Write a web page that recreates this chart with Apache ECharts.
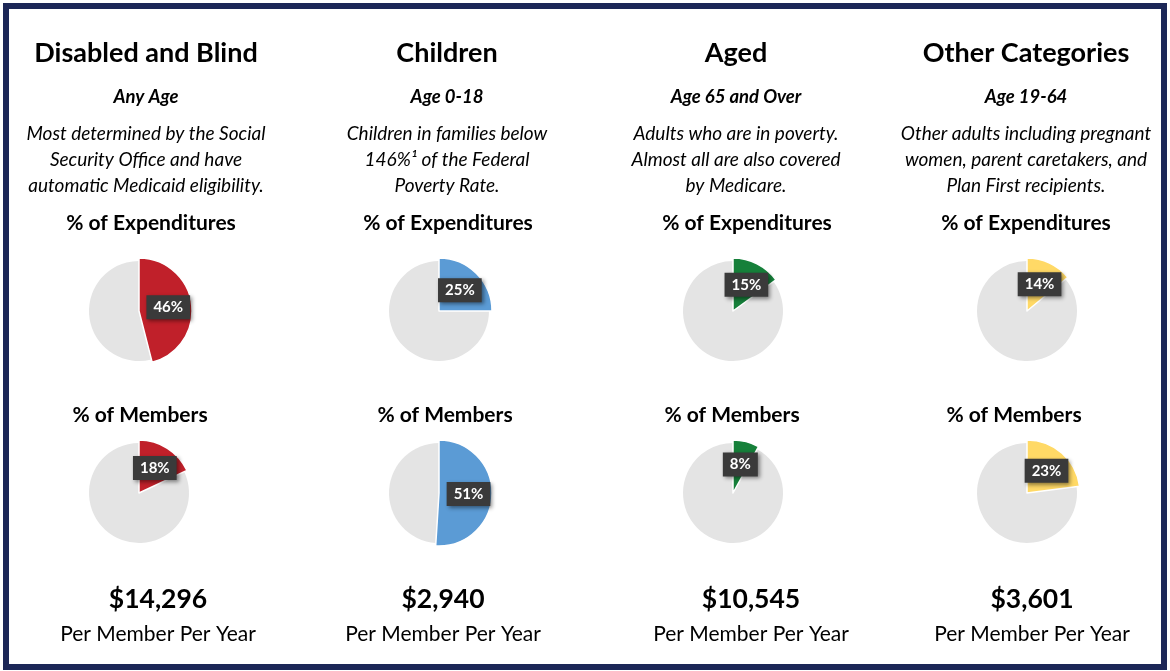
<!DOCTYPE html>
<html>
<head>
<meta charset="utf-8">
<script src="https://cdn.jsdelivr.net/npm/echarts@6/dist/echarts.min.js"></script>
<style>
  html, body { margin: 0; padding: 0; background: #fff; }
  #chart { width: 1170px; height: 671px; }
</style>
</head>
<body>
<div id="chart"></div>
<script>
// groups
const titles = ['Disabled and Blind', 'Children', 'Aged', 'Other Categories'];
const ages = ['Any Age', 'Age 0-18', 'Age 65 and Over', 'Age 19-64'];
const descriptions = [
  ['Most determined by the Social', 'Security Office and have', 'automatic Medicaid eligibility.'],
  ['Children in families below', '146%\u00b9 of the Federal', 'Poverty Rate.'],
  ['Adults who are in poverty.', 'Almost all are also covered', 'by Medicare.'],
  ['Other adults including pregnant', 'women, parent caretakers, and', 'Plan First recipients.'],
];
const expenditurePct = [46, 25, 15, 14];
const memberPct = [18, 51, 8, 23];
const costPerMember = ['$14,296', '$2,940', '$10,545', '$3,601'];
const colors = ['#c0202a', '#5b9bd5', '#16803a', '#ffd966'];

// layout
const colX = [146, 447, 736, 1026];
const expHeadX = [151, 448, 747, 1026];
const memHeadX = [140, 445, 732, 1014];
const bottomX = [158, 443, 751, 1032];
const pieX = [139, 439, 733, 1027];
const pieTopY = 311;
const pieBottomY = 493;
const FONT = 'Lato, "Open Sans", sans-serif';

const chart = echarts.init(document.getElementById('chart'));

const graphic = [
  {
    type: 'rect',
    shape: { x: 6, y: 6, width: 1158, height: 661 },
    style: { fill: 'none', stroke: '#1c2757', lineWidth: 6 },
    silent: true,
  },
];

function addText(x, y, text, font) {
  graphic.push({
    type: 'text',
    x,
    y,
    style: {
      text,
      font,
      fill: '#000',
      textAlign: 'center',
      textVerticalAlign: 'middle',
    },
  });
}

titles.forEach((t, i) => {
  addText(colX[i], 53, t, 'bold 27px ' + FONT);
  addText(colX[i], 97, ages[i], 'italic bold 18.5px ' + FONT);
  descriptions[i].forEach((line, j) => {
    addText(colX[i], 134 + j * 26, line, 'italic 19px ' + FONT);
  });
  addText(expHeadX[i], 223, '% of Expenditures', 'bold 21px ' + FONT);
  addText(memHeadX[i], 415, '% of Members', 'bold 21px ' + FONT);
  addText(bottomX[i], 599, costPerMember[i], 'bold 26.5px ' + FONT);
  addText(bottomX[i], 634, 'Per Member Per Year', '21px ' + FONT);
});

const labelStyle = {
  show: true,
  position: 'inside',
  formatter: '{c}%',
  color: '#fff',
  fontFamily: FONT,
  fontWeight: 'bold',
  fontSize: 15,
  backgroundColor: '#3a3a3a',
  padding: [5, 7, 4, 7],
  shadowColor: 'rgba(0,0,0,0.45)',
  shadowBlur: 4,
  shadowOffsetX: 2,
  shadowOffsetY: 2,
};

const series = [];
function addPie(cx, cy, pct, color) {
  // grey base
  series.push({
    type: 'pie',
    center: [cx, cy],
    radius: 50,
    startAngle: 90,
    clockwise: true,
    silent: true,
    label: { show: false },
    labelLine: { show: false },
    data: [
      { value: pct, itemStyle: { color: 'rgba(0,0,0,0)' } },
      { value: 100 - pct, itemStyle: { color: '#e4e4e4' } },
    ],
  });
  // coloured slice
  series.push({
    type: 'pie',
    center: [cx, cy],
    radius: 53,
    startAngle: 90,
    clockwise: true,
    silent: true,
    labelLine: { show: false },
    data: [
      {
        value: pct,
        itemStyle: { color, borderColor: '#fff', borderWidth: 1.5 },
        label: labelStyle,
      },
      { value: 100 - pct, itemStyle: { color: 'rgba(0,0,0,0)' }, label: { show: false } },
    ],
  });
}

expenditurePct.forEach((v, i) => addPie(pieX[i], pieTopY, v, colors[i]));
memberPct.forEach((v, i) => addPie(pieX[i], pieBottomY, v, colors[i]));

chart.setOption({
  backgroundColor: '#fff',
  animation: false,
  graphic,
  series,
});
</script>
</body>
</html>
